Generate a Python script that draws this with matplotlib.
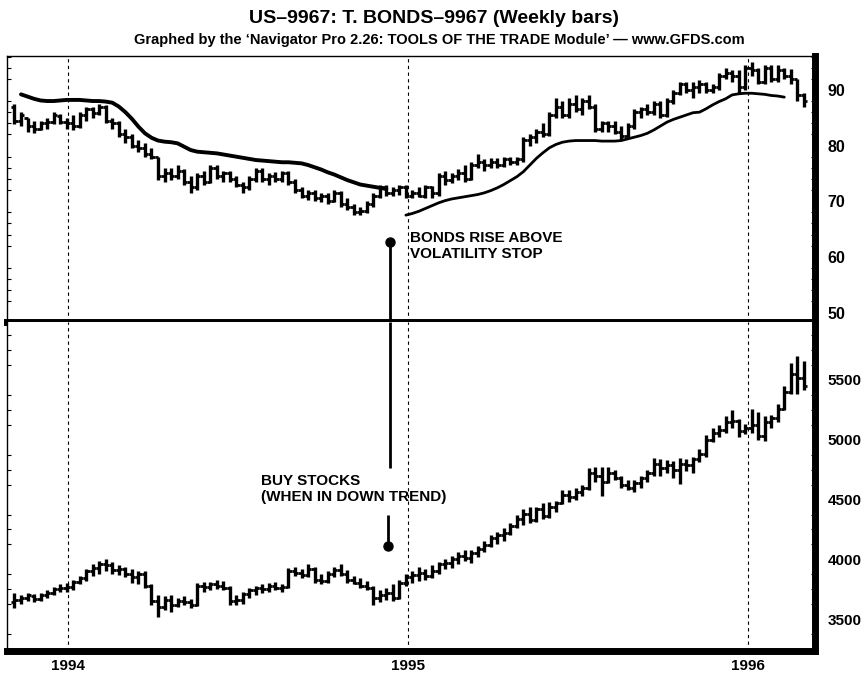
import numpy as np
import pandas as pd
import matplotlib
matplotlib.use("Agg")
import matplotlib.pyplot as plt
import matplotlib.dates as mdates
from matplotlib.ticker import MultipleLocator
from matplotlib import font_manager

# weekly bars, Friday to Friday
weeks = pd.date_range("1993-11-05", periods=122, freq="7D")
year_marks = ["1994-01-01", "1995-01-01", "1996-01-01"]
year_labels = ["1994", "1995", "1996"]

# T-Bonds weekly open / high / low / close
bond_open = [87.0, 84.5, 85.0, 83.5, 83.0, 84.0, 84.2, 85.3, 84.3, 84.0,
             83.5, 85.5, 86.5, 85.8, 87.0, 84.5, 84.0, 82.0, 81.5, 80.0,
             79.5, 78.5, 78.0, 74.5, 75.0, 74.5, 75.5, 73.5, 72.5, 74.5,
             73.5, 76.0, 74.5, 75.0, 74.0, 73.0, 72.5, 74.0, 75.5, 74.0,
             74.5, 74.0, 75.0, 73.5, 72.0, 71.0, 71.5, 70.5, 71.0, 70.0,
             71.5, 69.5, 69.0, 68.0, 68.2, 69.5, 71.0, 72.5, 71.5, 72.0,
             72.5, 71.0, 71.5, 71.0, 72.5, 71.5, 74.5, 73.8, 74.5, 75.0,
             74.0, 76.5, 77.0, 76.5, 77.0, 76.5, 77.5, 77.0, 77.5, 81.0,
             81.5, 82.5, 82.0, 85.5, 87.0, 85.5, 87.5, 86.5, 88.0, 87.0,
             83.0, 84.0, 83.5, 82.5, 81.8, 83.5, 86.0, 86.5, 86.0, 87.5,
             85.5, 88.0, 89.5, 91.0, 90.0, 90.5, 91.0, 90.0, 90.5, 92.5,
             93.0, 92.5, 90.5, 94.0, 93.5, 91.5, 94.0, 92.0, 93.5, 92.5,
             92.0, 89.0]
bond_high = [87.5, 86.0, 85.0, 84.5, 84.5, 85.0, 86.0, 85.6, 85.0, 85.5,
             86.0, 87.0, 87.0, 87.5, 87.3, 85.0, 84.5, 83.0, 82.0, 81.0,
             80.5, 79.5, 78.0, 76.0, 76.0, 76.5, 75.8, 74.5, 75.0, 75.5,
             76.5, 76.5, 75.5, 75.5, 74.5, 73.5, 74.5, 76.0, 76.0, 75.0,
             75.2, 75.5, 75.5, 74.0, 72.5, 72.0, 72.0, 71.5, 71.5, 72.0,
             71.8, 70.5, 69.5, 69.0, 70.0, 71.5, 73.0, 73.0, 72.5, 73.0,
             73.0, 72.0, 72.5, 73.0, 72.8, 75.0, 75.5, 75.0, 75.8, 76.5,
             77.0, 78.5, 77.5, 77.8, 77.8, 78.0, 78.0, 78.0, 81.5, 82.0,
             83.0, 84.0, 86.0, 88.5, 88.0, 88.5, 89.0, 88.5, 89.0, 87.5,
             84.5, 84.5, 84.5, 83.5, 84.0, 86.5, 87.0, 87.5, 88.0, 88.0,
             88.5, 90.0, 91.5, 91.5, 91.5, 91.8, 91.5, 91.0, 93.0, 94.0,
             93.5, 93.5, 94.5, 95.0, 94.0, 94.5, 94.5, 94.5, 94.0, 93.8,
             92.0, 89.5]
bond_low = [83.8, 83.5, 82.5, 82.3, 82.8, 83.0, 83.8, 83.8, 83.0, 82.8,
            83.2, 84.5, 85.0, 85.5, 84.0, 83.0, 81.5, 80.5, 79.5, 78.8,
            78.0, 77.5, 73.8, 73.5, 73.8, 74.0, 73.0, 71.5, 72.0, 73.0,
            73.2, 74.0, 73.5, 73.5, 72.5, 71.5, 72.0, 73.5, 73.5, 73.0,
            73.5, 73.5, 73.0, 71.5, 70.5, 70.2, 70.0, 69.8, 69.5, 69.8,
            69.0, 68.5, 67.5, 67.5, 67.8, 69.0, 70.5, 71.0, 71.0, 71.2,
            70.5, 70.5, 70.8, 70.5, 70.5, 71.0, 73.0, 73.2, 73.8, 73.5,
            73.8, 76.0, 75.5, 76.0, 76.0, 76.2, 76.5, 76.5, 77.0, 80.0,
            80.5, 81.5, 81.8, 85.0, 85.0, 85.0, 86.0, 85.5, 86.5, 82.5,
            82.5, 82.5, 82.0, 81.0, 81.5, 83.0, 85.0, 85.5, 85.5, 85.0,
            85.2, 87.5, 89.0, 89.5, 88.5, 89.5, 89.5, 89.5, 90.0, 92.0,
            91.5, 89.5, 90.0, 92.5, 91.0, 91.0, 91.5, 91.5, 92.0, 91.0,
            88.0, 87.0]
bond_close = [84.5, 85.5, 83.5, 83.0, 84.0, 84.2, 85.5, 84.3, 84.0, 83.5,
              85.5, 86.5, 85.8, 87.0, 84.5, 84.0, 82.0, 81.5, 80.0, 79.5,
              78.5, 78.0, 74.5, 75.0, 74.5, 75.5, 73.5, 72.5, 74.5, 73.5,
              76.0, 74.5, 75.0, 74.0, 73.0, 72.5, 74.0, 75.5, 74.0, 74.5,
              74.0, 75.0, 73.5, 72.0, 71.0, 71.5, 70.5, 71.0, 70.0, 71.5,
              69.5, 69.0, 68.0, 68.2, 69.5, 71.0, 72.5, 71.5, 72.0, 72.5,
              71.0, 71.5, 71.0, 72.5, 71.5, 74.5, 73.8, 74.5, 75.0, 74.0,
              76.5, 77.0, 76.5, 77.0, 76.5, 77.5, 77.0, 77.5, 81.0, 81.5,
              82.5, 82.0, 85.5, 87.0, 85.5, 87.5, 86.5, 88.0, 87.0, 83.0,
              84.0, 83.5, 82.5, 81.8, 83.5, 86.0, 86.5, 86.0, 87.5, 85.5,
              88.0, 89.5, 91.0, 90.0, 90.5, 91.0, 90.0, 90.5, 92.5, 93.0,
              92.5, 90.5, 94.0, 93.5, 91.5, 94.0, 92.0, 93.5, 92.5, 92.0,
              89.0, 88.0]

nan = np.nan
# volatility stop: above price while bonds fall, below price once they rise
stop_short = [nan, 89.2, 88.8, 88.4, 88.1, 88.0, 88.0, 88.1, 88.2, 88.2,
              88.2, 88.1, 88.0, 88.0, 87.9, 87.7, 87.0, 86.0, 84.8, 83.4,
              82.2, 81.4, 80.9, 80.7, 80.6, 80.4, 79.8, 79.2, 78.9, 78.8,
              78.7, 78.6, 78.4, 78.2, 78.0, 77.8, 77.6, 77.4, 77.3, 77.2,
              77.1, 77.0, 77.0, 76.9, 76.8, 76.5, 76.1, 75.7, 75.2, 74.8,
              74.3, 73.8, 73.4, 73.0, 72.8, 72.6, 72.4, 72.2] + [nan] * 64
stop_long = [nan] * 60 + [
    67.5, 67.8, 68.2, 68.7, 69.2, 69.7, 70.1, 70.4, 70.6, 70.8,
    71.0, 71.2, 71.5, 71.9, 72.4, 73.0, 73.7, 74.4, 75.3, 76.5,
    77.7, 78.7, 79.6, 80.2, 80.6, 80.8, 80.9, 80.9, 80.9, 80.9,
    80.8, 80.8, 80.8, 80.9, 81.2, 81.5, 81.8, 82.2, 82.8, 83.5,
    84.2, 84.7, 85.1, 85.5, 85.9, 86.0, 86.6, 87.3, 87.9, 88.4,
    89.1, 89.3, 89.4, 89.4, 89.3, 89.2, 89.0, 88.9, 88.7] + [nan] * 3

# stock index weekly open / high / low / close
stock_open = [3640, 3660, 3680, 3690, 3670, 3700, 3720, 3750, 3760, 3770,
              3810, 3840, 3900, 3930, 3960, 3950, 3910, 3920, 3880, 3850,
              3880, 3780, 3650, 3600, 3660, 3620, 3650, 3640, 3620, 3780,
              3770, 3790, 3780, 3760, 3650, 3660, 3710, 3740, 3760, 3750,
              3780, 3760, 3770, 3900, 3890, 3870, 3920, 3830, 3820, 3880,
              3910, 3880, 3830, 3800, 3780, 3760, 3680, 3700, 3720, 3680,
              3800, 3850, 3870, 3890, 3860, 3900, 3960, 3970, 4000, 4030,
              4010, 4050, 4090, 4120, 4180, 4200, 4220, 4280, 4340, 4380,
              4330, 4420, 4360, 4440, 4470, 4540, 4520, 4560, 4600, 4720,
              4700, 4650, 4720, 4680, 4620, 4600, 4640, 4680, 4720, 4800,
              4760, 4790, 4750, 4800, 4790, 4840, 4880, 5000, 5060, 5080,
              5150, 5160, 5070, 5100, 5120, 5030, 5150, 5180, 5260, 5400,
              5550, 5520]
stock_high = [3720, 3700, 3720, 3710, 3720, 3740, 3770, 3790, 3800, 3830,
              3860, 3920, 3960, 3990, 4000, 3980, 3950, 3940, 3920, 3900,
              3900, 3790, 3700, 3690, 3700, 3680, 3690, 3670, 3800, 3810,
              3810, 3830, 3820, 3780, 3700, 3730, 3760, 3780, 3790, 3800,
              3810, 3790, 3930, 3940, 3920, 3960, 3940, 3880, 3900, 3940,
              3960, 3910, 3860, 3840, 3820, 3780, 3740, 3760, 3790, 3830,
              3880, 3900, 3940, 3920, 3950, 3980, 4000, 4030, 4060, 4080,
              4080, 4110, 4150, 4200, 4230, 4260, 4300, 4370, 4420, 4440,
              4440, 4470, 4480, 4490, 4580, 4580, 4600, 4620, 4760, 4770,
              4770, 4770, 4750, 4700, 4660, 4660, 4700, 4750, 4850, 4840,
              4830, 4820, 4850, 4840, 4860, 4920, 5040, 5100, 5120, 5200,
              5250, 5170, 5130, 5260, 5230, 5200, 5210, 5300, 5450, 5640,
              5700, 5660]
stock_low = [3590, 3630, 3650, 3640, 3650, 3680, 3700, 3730, 3730, 3740,
             3790, 3820, 3860, 3880, 3900, 3880, 3870, 3850, 3800, 3790,
             3760, 3620, 3520, 3580, 3560, 3600, 3620, 3590, 3610, 3730,
             3740, 3750, 3740, 3620, 3620, 3630, 3680, 3700, 3720, 3730,
             3740, 3730, 3760, 3860, 3840, 3850, 3800, 3790, 3800, 3850,
             3860, 3800, 3790, 3760, 3740, 3620, 3640, 3660, 3650, 3670,
             3780, 3800, 3820, 3830, 3840, 3880, 3920, 3930, 3960, 3990,
             3970, 4020, 4060, 4100, 4130, 4150, 4200, 4260, 4290, 4300,
             4310, 4340, 4350, 4400, 4460, 4480, 4500, 4530, 4580, 4650,
             4530, 4640, 4660, 4600, 4580, 4560, 4600, 4650, 4700, 4700,
             4720, 4680, 4630, 4740, 4720, 4810, 4860, 4980, 5020, 5060,
             5100, 5020, 5050, 5060, 5000, 4990, 5100, 5150, 5250, 5380,
             5380, 5420]
stock_close = [3660, 3680, 3700, 3670, 3700, 3720, 3750, 3760, 3770, 3810,
               3840, 3900, 3930, 3960, 3950, 3910, 3920, 3880, 3850, 3880,
               3780, 3650, 3600, 3660, 3620, 3650, 3640, 3620, 3780, 3770,
               3790, 3780, 3760, 3650, 3660, 3710, 3740, 3760, 3750, 3780,
               3760, 3770, 3900, 3890, 3870, 3920, 3830, 3820, 3880, 3910,
               3880, 3830, 3800, 3780, 3760, 3680, 3700, 3720, 3680, 3800,
               3850, 3870, 3890, 3860, 3900, 3960, 3970, 4000, 4030, 4010,
               4050, 4090, 4120, 4180, 4200, 4220, 4280, 4340, 4380, 4330,
               4420, 4360, 4440, 4470, 4540, 4520, 4560, 4600, 4720, 4700,
               4650, 4720, 4680, 4620, 4600, 4640, 4680, 4720, 4800, 4760,
               4790, 4750, 4800, 4790, 4840, 4880, 5000, 5060, 5080, 5150,
               5160, 5070, 5100, 5120, 5030, 5150, 5180, 5260, 5400, 5550,
               5520, 5450]

# annotation anchors (date, value)
bond_signal = ("1994-12-13", 62.7)
stock_signal = ("1994-12-11", 4112)
stock_line_top = 4764
stock_stub_top = 4371

title = "US\u20139967: T. BONDS\u20139967 (Weekly bars)"
subtitle = ("Graphed by the \u2018Navigator Pro 2.26: TOOLS OF THE TRADE Module\u2019"
            " \u2014 www.GFDS.com")

names = {f.name for f in font_manager.fontManager.ttflist}
narrow = "Liberation Sans Narrow" if "Liberation Sans Narrow" in names else "Liberation Sans"
plt.rcParams["font.family"] = ["Liberation Sans", "DejaVu Sans"]

x = mdates.date2num(weeks)
tick = 3.5  # half width of open/close ticks in days


def draw_bars(ax, o, h, l, c):
    ax.vlines(x, l, h, color="black", lw=2.4)
    ax.hlines(o, x - tick, x, color="black", lw=2.0)
    ax.hlines(c, x, x + tick, color="black", lw=2.0)


def style_axes(ax):
    ax.set_facecolor("white")
    ax.yaxis.tick_right()
    ax.tick_params(axis="y", which="major", length=0, pad=9, labelsize=11)
    ax.tick_params(axis="y", which="minor", direction="in", length=3,
                   left=True, right=True, width=0.8)
    ax.spines["left"].set_linewidth(1.0)
    ax.spines["top"].set_linewidth(1.0)
    ax.spines["right"].set_linewidth(5)
    ax.spines["bottom"].set_linewidth(5)
    for d in year_marks:
        ax.axvline(mdates.date2num(pd.Timestamp(d)), color="black", lw=0.8,
                   ls=(0, (3, 3)), zorder=0)
    ax.set_xlim(mdates.date2num(pd.Timestamp("1993-10-28")),
                mdates.date2num(pd.Timestamp("1996-03-13")))


fig = plt.figure(figsize=(8.68, 6.75), dpi=100)
ax_top = fig.add_axes([0.0081, 0.5230, 0.9309, 0.3941])
ax_bot = fig.add_axes([0.0081, 0.0356, 0.9309, 0.4874], sharex=ax_top)

# top panel: bonds + volatility stop
draw_bars(ax_top, bond_open, bond_high, bond_low, bond_close)
ax_top.plot(x, np.array(stop_short, dtype=float), color="black", lw=2.8,
            solid_capstyle="round")
ax_top.plot(x, np.array(stop_long, dtype=float), color="black", lw=2.0,
            solid_capstyle="round")
ax_top.set_ylim(48.3, 96.1)
ax_top.yaxis.set_minor_locator(MultipleLocator(2))
style_axes(ax_top)
ax_top.tick_params(axis="x", which="both", bottom=False, labelbottom=False)
ax_top.set_yticks([50, 60, 70, 80, 90])
ax_top.set_yticklabels(["50", "60", "70", "80", "90"], fontweight="bold",
                       fontsize=11.5)

bx = mdates.date2num(pd.Timestamp(bond_signal[0]))
ax_top.vlines(bx, 48.3, bond_signal[1], color="black", lw=2.0)
ax_top.plot(bx, bond_signal[1], "o", color="black", ms=6.5)
ax_top.text(mdates.date2num(pd.Timestamp("1995-01-03")), 64.6,
            "BONDS RISE ABOVE\nVOLATILITY STOP", fontsize=11, fontweight="bold",
            va="top", ha="left", linespacing=1.15)

# bottom panel: stocks
draw_bars(ax_bot, stock_open, stock_high, stock_low, stock_close)
ax_bot.set_ylim(3234, 5985)
ax_bot.set_yticks([3500, 4000, 4500, 5000, 5500])
ax_bot.set_yticklabels(["3500", "4000", "4500", "5000", "5500"],
                       fontweight="bold", fontsize=10.5)
ax_bot.yaxis.set_minor_locator(MultipleLocator(125))
style_axes(ax_bot)
ax_bot.spines["top"].set_linewidth(0)
ax_bot.set_xticks([mdates.date2num(pd.Timestamp(d)) for d in year_marks])
ax_bot.set_xticklabels(year_labels, fontweight="bold", fontsize=11)
ax_bot.tick_params(axis="x", length=0, pad=6)

sx = mdates.date2num(pd.Timestamp(stock_signal[0]))
ax_bot.vlines(bx, stock_line_top, 5985, color="black", lw=2.0)
ax_bot.vlines(sx, stock_signal[1], stock_stub_top, color="black", lw=2.0)
ax_bot.plot(sx, stock_signal[1], "o", color="black", ms=6.5)
ax_bot.text(mdates.date2num(pd.Timestamp("1994-07-28")), 4710,
            "BUY STOCKS\n(WHEN IN DOWN TREND)", fontsize=11, fontweight="bold",
            va="top", ha="left", linespacing=1.15)

fig.text(0.5, 0.973, title, ha="center", va="center", fontsize=14,
         fontweight="bold", family=[narrow, "DejaVu Sans"])
fig.text(0.506, 0.941, subtitle, ha="center", va="center", fontsize=10.5,
         fontweight="bold", family=[narrow, "DejaVu Sans"])

fig.savefig("out.png", dpi=100, facecolor="white")
